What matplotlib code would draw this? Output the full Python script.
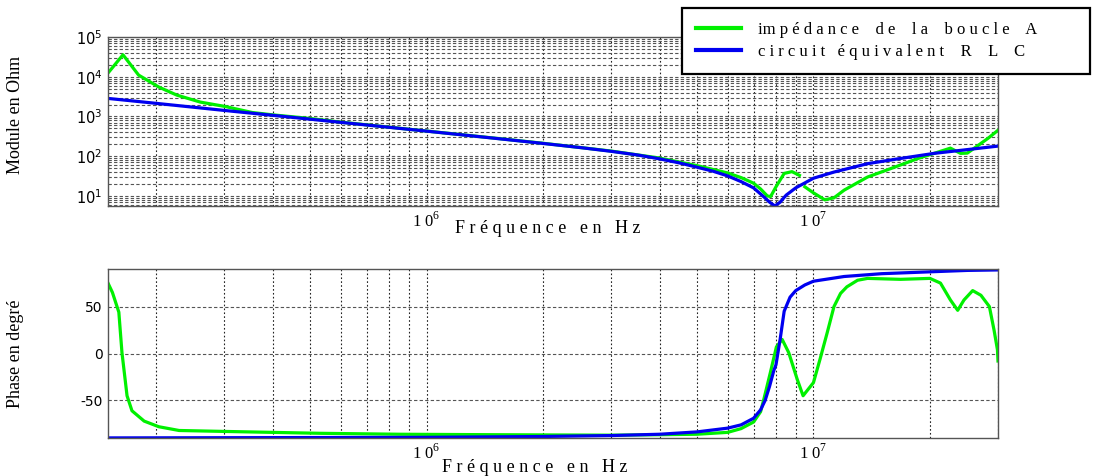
import numpy as np
import matplotlib
matplotlib.use("Agg")
import matplotlib.pyplot as plt
from matplotlib.ticker import FixedLocator, FixedFormatter, LogLocator, NullFormatter

plt.rcParams['font.family'] = ['Liberation Serif', 'DejaVu Serif']
plt.rcParams['mathtext.fontset'] = 'custom'
plt.rcParams['mathtext.rm'] = 'Liberation Serif'
plt.rcParams['mathtext.sf'] = 'DejaVu Sans'

# module |Z| (Ohm) - mesure boucle A
f_mod_mes = [1.5e5, 1.64e5, 1.8e5, 2.03e5, 2.26e5, 2.6e5, 3e5, 3.54e5, 4e5, 5e5,
             6e5, 1e6, 1.5e6, 2e6, 3e6, 4e6, 5e6, 6e6, 6.5e6, 7e6, 7.3e6, 7.6e6,
             7.75e6, 8e6, 8.4e6, 8.8e6, 9.2e6, 9.35e6, 9.5e6, 1e7, 1.07e7, 1.13e7,
             1.2e7, 1.38e7, 1.62e7, 1.87e7, 2.05e7, 2.26e7, 2.4e7, 2.5e7, 2.65e7,
             2.83e7, 3e7]
mod_mes = [12400, 35700, 11000, 5500, 3450, 2300, 1800, 1260, 1100, 890,
           720, 430, 285, 212, 135, 90, 58, 38, 29, 21, 15, 10,
           9.7, 17, 37, 41, 33, np.nan, 17, 12, 8, 9,
           14, 30, 53, 89, 118, 160, 118, 120, 180,
           285, 450]

# module |Z| (Ohm) - circuit RLC
f_mod_rlc = [1.5e5, 2e5, 3e5, 4e5, 6e5, 1e6, 1.5e6, 2e6, 2.5e6, 3e6, 3.5e6, 4e6,
             4.5e6, 5e6, 5.5e6, 6e6, 6.5e6, 7e6, 7.4e6, 7.7e6, 7.95e6, 8.2e6,
             8.5e6, 9e6, 1e7, 1.13e7, 1.38e7, 1.68e7, 2.05e7, 2.5e7, 3e7]
mod_rlc = [2850, 2140, 1420, 1070, 712, 428, 283, 210, 165, 133, 108, 86,
           68, 53, 42, 32, 23, 16, 10, 7, 5.6, 7,
           10.5, 16, 28, 40, 65, 88, 118, 147, 180]

# phase (degres) - mesure boucle A
f_ph_mes = [1.5e5, 1.54e5, 1.6e5, 1.63e5, 1.68e5, 1.73e5, 1.86e5, 2.03e5, 2.29e5,
            3e5, 5.3e5, 8.5e5, 1.5e6, 3e6, 4e6, 5e6, 6e6, 6.5e6, 7e6, 7.3e6,
            7.45e6, 7.74e6, 8.02e6, 8.3e6, 8.63e6, 9.07e6, 9.4e6, 1e7, 1.04e7,
            1.085e7, 1.13e7, 1.175e7, 1.22e7, 1.3e7, 1.38e7, 1.68e7, 2e7, 2.13e7,
            2.26e7, 2.36e7, 2.45e7, 2.58e7, 2.71e7, 2.85e7, 2.93e7, 2.99e7, 3e7]
ph_mes = [75, 65, 44, 1, -45, -61, -72, -78, -82,
          -83, -85, -86, -86.5, -87, -86.5, -86, -84, -80, -73, -62,
          -48, -20, 7, 15, 1, -27, -45, -31, -6,
          22, 50, 64, 71, 78, 80, 79, 80, 75,
          57, 46, 57, 67, 62, 50, 25, 4, -8]

# phase (degres) - circuit RLC
f_ph_rlc = [1.5e5, 1e6, 2e6, 3e6, 4e6, 5e6, 6e6, 6.5e6, 7e6, 7.3e6, 7.5e6, 7.7e6,
            7.9e6, 8e6, 8.2e6, 8.4e6, 8.7e6, 9e6, 9.5e6, 1e7, 1.2e7, 1.5e7, 2e7,
            2.5e7, 3e7]
ph_rlc = [-89.9, -89.3, -88.4, -87.4, -86, -83.5, -79.5, -76, -69, -60, -50, -35,
          -18, -12, 15, 45, 60, 67, 73, 77, 82, 85, 87,
          88.5, 89]

GREEN = '#00f000'
BLUE = '#0000f0'
W, H = 1094, 476

fig = plt.figure(figsize=(W / 100, H / 100), dpi=100)
ax1 = fig.add_axes([108 / W, 1 - 206 / H, 890 / W, 169 / H])
ax2 = fig.add_axes([108 / W, 1 - 438 / H, 890 / W, 169 / H])

l1, = ax1.plot(f_mod_mes, mod_mes, color=GREEN, lw=2.3)
l2, = ax1.plot(f_mod_rlc, mod_rlc, color=BLUE, lw=2.3)
ax2.plot(f_ph_mes, ph_mes, color=GREEN, lw=2.3)
ax2.plot(f_ph_rlc, ph_rlc, color=BLUE, lw=2.3)

xlab = 'F r é q u e n c e   e n   H z'
for ax in (ax1, ax2):
    ax.set_xscale('log')
    ax.set_xlim(1.5e5, 3e7)
    ax.xaxis.set_major_locator(FixedLocator([1e6, 1e7]))
    ax.xaxis.set_major_formatter(FixedFormatter(['1 0$^{6}$', '1 0$^{7}$']))
    ax.xaxis.set_minor_locator(LogLocator(base=10, subs=np.arange(2, 10)))
    ax.xaxis.set_minor_formatter(NullFormatter())
    ax.grid(True, which='both', axis='x', color='#222222', ls=(0, (1.5, 2)), lw=0.8)
    ax.tick_params(axis='both', which='both', direction='in', length=0)
    ax.tick_params(axis='x', labelsize=12, pad=4)
    for s in ax.spines.values():
        s.set_color('#555555')
        s.set_linewidth(1.0)
    ax.set_xlabel(xlab, fontsize=13)
    ax.set_axisbelow(True)

ax1.set_yscale('log')
ax1.set_ylim(5.6, 1e5)
ax1.yaxis.set_major_locator(FixedLocator([1e1, 1e2, 1e3, 1e4, 1e5]))
ax1.yaxis.set_major_formatter(FixedFormatter(['$\\mathsf{10^{%d}}$' % k for k in range(1, 6)]))
ax1.yaxis.set_minor_locator(LogLocator(base=10, subs=np.arange(2, 10)))
ax1.yaxis.set_minor_formatter(NullFormatter())
ax1.grid(True, which='both', axis='y', color='#555555', ls=(0, (3, 2)), lw=0.8)
ax1.tick_params(axis='y', labelsize=10.5, pad=4)
ax1.set_ylabel('Module en Ohm', fontsize=13)
ax1.yaxis.set_label_coords(-0.094, 0.54)
ax1.xaxis.set_label_coords(0.494, -0.08)

ax2.set_ylim(-90, 90)
ax2.set_yticks([-50, 0, 50])
ax2.set_yticklabels(['-50', '0', '50'], family='DejaVu Sans')
ax2.grid(True, which='major', axis='y', color='#555555', ls=(0, (3, 2)), lw=0.8)
ax2.tick_params(axis='y', labelsize=10, pad=4)
ax2.set_ylabel('Phase en degré', fontsize=13)
ax2.yaxis.set_label_coords(-0.094, 0.5)
ax2.xaxis.set_label_coords(0.48, -0.125)

leg = ax1.legend([l1, l2],
                 ['im p é d a n c e    d e    l a    b o u c l e    A',
                  'c i r c u i t   é q u i v a l e n t    R    L    C'],
                 loc='upper left', mode='expand',
                 bbox_to_anchor=(682 / W, 1 - 76 / H, 408 / W, 68 / H),
                 bbox_transform=fig.transFigure, borderaxespad=0,
                 borderpad=0.85, labelspacing=0.35, handlelength=2.7,
                 handletextpad=1.0, fancybox=False, framealpha=1,
                 edgecolor='black', fontsize=12)
leg.get_frame().set_linewidth(1.6)
for ln in leg.get_lines():
    ln.set_linewidth(3)

fig.savefig('out.png', dpi=100)
